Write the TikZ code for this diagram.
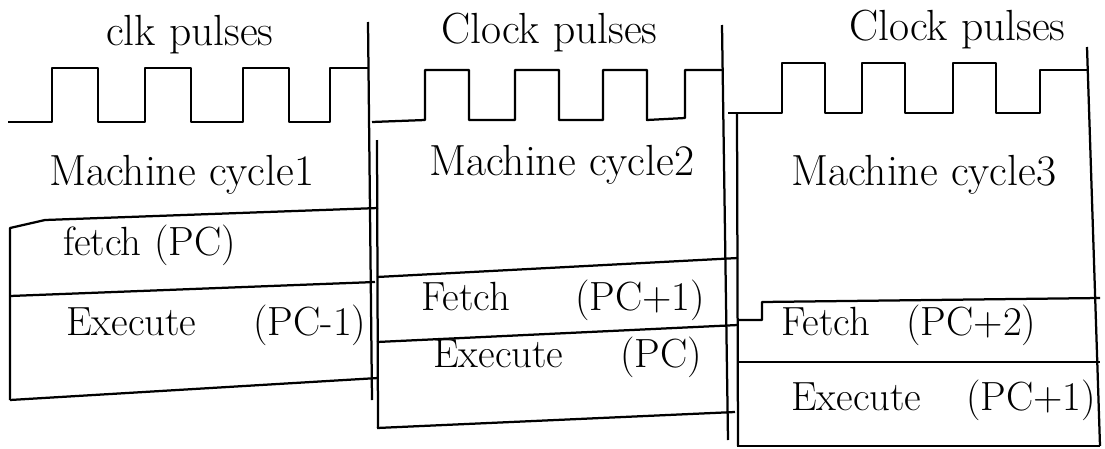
\documentclass[tikz,border=0pt]{standalone}
\usepackage{tikz}
\usetikzlibrary{positioning}

\begin{document}
\begin{tikzpicture}[x=0.025cm, y=-0.025cm,
    line width=1.6pt, line join=round,
    lbl/.style={font=\fontsize{29}{32}\selectfont, inner sep=0pt, anchor=west},
    head/.style={lbl, font=\fontsize{31}{34}\selectfont}]

    \useasboundingbox (0,0) rectangle (1105,448);

    % clock pulses
    \node[head] (clk1) at (105,35) {clk pulses};
    \node[head] (clk2) at (440,33) {Clock pulses};
    \node[head] (clk3) at (848,30) {Clock pulses};

    \draw (8,122) foreach \r in {52,145,243} {-- (\r,122) -- (\r,68) -- ({\r+46},68) -- ({\r+46},122)}
        -- (330,122) -- (330,68) -- (368,68);
    \draw (372,122) foreach \r in {425,515,603} {-- (\r,120) -- (\r,70) -- ({\r+44},70) -- ({\r+44},120)}
        -- (685,118) -- (685,70) -- (722,70);
    \draw (728,113) foreach \r in {782,862,953} {-- (\r,113) -- (\r,63) -- ({\r+43},63) -- ({\r+43},113)}
        -- (1040,113) -- (1040,70) -- (1087,70);

    % cycle borders
    \draw (368,22) -- (372,400);
    \draw (377,140) -- (378,428);
    \draw (722,25) -- (728,440);
    \draw (737,113) -- (738,446);
    \draw (1087,47) -- (1100,446);

    % machine cycles
    \node[head] (mc1) at (48,175) {Machine cycle1};
    \node[head] (mc2) at (428,165) {Machine cycle2};
    \node[head] (mc3) at (790,175) {Machine cycle3};

    % cycle 1 boxes
    \draw (10,400) -- (10,228) -- (45,220) -- (378,208);
    \draw (10,296) -- (375,282);
    \draw (10,400) -- (378,378);
    \node[lbl] (f1) at (62,245) {fetch (PC)};
    \node[lbl] (e1) at (65,325) {Execute\hspace{1.4em}(PC-1)};

    % cycle 2 boxes
    \draw (377,277) -- (738,258);
    \draw (377,342) -- (738,325);
    \draw (377,428) -- (735,412);
    \node[lbl] (f2) at (420,300) {Fetch\hspace{1.6em}(PC+1)};
    \node[lbl] (e2) at (432,357) {Execute\hspace{1.4em}(PC)};

    % cycle 3 boxes
    \draw (737,320) -- (762,320) -- (762,302) -- (1100,298);
    \draw (737,362) -- (1100,362);
    \draw (737,446) -- (1100,446);
    \node[lbl] (f3) at (780,325) {Fetch\hspace{0.9em}(PC+2)};
    \node[lbl] (e3) at (790,400) {Execute\hspace{1.1em}(PC+1)};

\end{tikzpicture}
\end{document}
